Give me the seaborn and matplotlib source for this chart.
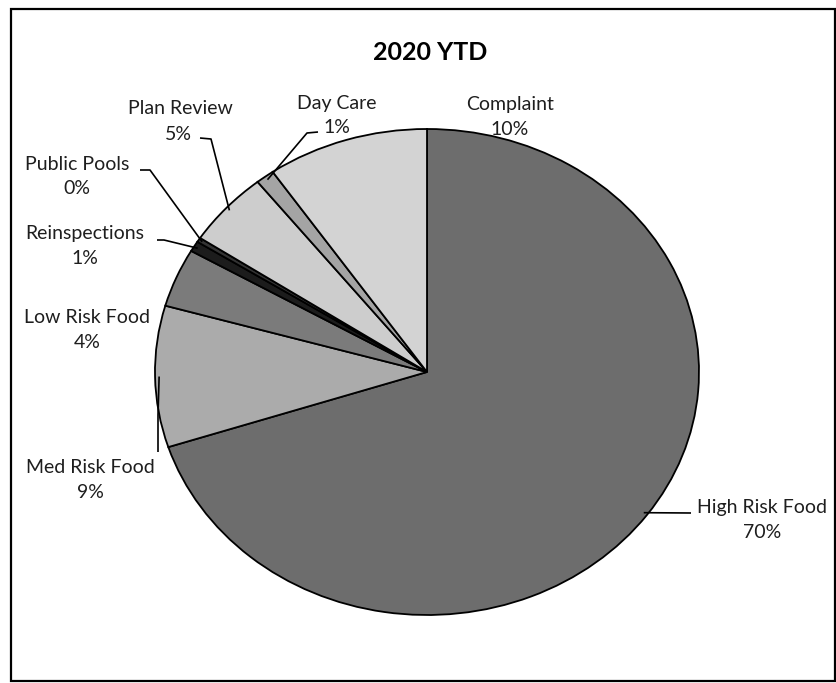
import numpy as np
import matplotlib
matplotlib.use("Agg")
import matplotlib.pyplot as plt
import seaborn as sns
from matplotlib.patches import Rectangle

# ---- data ----
categories = ["High Risk Food", "Med Risk Food", "Low Risk Food", "Reinspections",
              "Public Pools", "Plan Review", "Day Care", "Complaint"]
shares = [70.0, 9.4, 3.9, 0.7, 0.3, 5.0, 1.1, 9.6]
colors = ["#6d6d6d", "#ababab", "#7b7b7b", "#1c1c1c",
          "#333333", "#cdcdcd", "#a4a4a4", "#d3d3d3"]
title = "2020 YTD"

sns.set_theme(style="white")
plt.rcParams['font.family'] = ['Lato', 'DejaVu Sans']

W, H = 836, 683
fig = plt.figure(figsize=(W / 100, H / 100), dpi=100)
fig.patch.set_facecolor("white")
ax = fig.add_axes([0, 0, 1, 1])

# pie geometry (pixels) - the reference pie is slightly elliptical
CX, CY, RX, RY = 427, 372, 272, 243


def P(px, py):
    return ((px - CX) / RX, (CY - py) / RY)


wedges, _ = ax.pie(shares, colors=colors, startangle=90, counterclock=False,
                   radius=1.0, center=(0, 0),
                   wedgeprops=dict(edgecolor="black", linewidth=1.3))
ax.set_aspect("auto")
ax.set_xlim((0 - CX) / RX, (W - CX) / RX)
ax.set_ylim((CY - H) / RY, CY / RY)
ax.axis("off")

# label layout: (line1 center px, line2 center px, leader anchor points px)
layout = {
    "High Risk Food": ((762, 507), (762, 532), [(691, 513)]),
    "Med Risk Food": ((90, 468), (90, 493), [(158, 452), (158, 415)]),
    "Low Risk Food": ((87, 318), (87, 343), None),
    "Reinspections": ((85, 234), (85, 259), [(157, 240), (164, 240)]),
    "Public Pools": ((77, 165), (77, 189), [(140, 170), (150, 170)]),
    "Plan Review": ((180, 109), (178, 135), [(200, 138), (211, 139)]),
    "Day Care": ((337, 103), (337, 128), [(318, 132), (307, 133)]),
    "Complaint": ((510, 105), (510, 130), None),
}

fs = 14
for w, name, val in zip(wedges, categories, shares):
    l1, l2, leader = layout[name]
    x, y = P(*l1)
    ax.text(x, y, name, ha="center", va="center", fontsize=fs, color="#1e1e1e")
    x, y = P(*l2)
    ax.text(x, y, f"{round(val):.0f}%", ha="center", va="center", fontsize=fs, color="#1e1e1e")
    if leader is not None:
        mid = np.deg2rad((w.theta1 + w.theta2) / 2)
        pts = [P(*p) for p in leader] + [(0.985 * np.cos(mid), 0.985 * np.sin(mid))]
        xs, ys = zip(*pts)
        ax.plot(xs, ys, color="black", lw=1.2, solid_capstyle="butt")

tx, ty = P(430, 53)
ax.text(tx, ty, title, ha="center", va="center", fontsize=18, fontweight="bold", color="black")

# outer frame
fig.patches.append(Rectangle((11 / W, 2 / H), (W - 12) / W, (H - 11) / H,
                             transform=fig.transFigure, fill=False,
                             edgecolor="black", linewidth=1.6))

fig.savefig("out.png", dpi=100, facecolor="white")
